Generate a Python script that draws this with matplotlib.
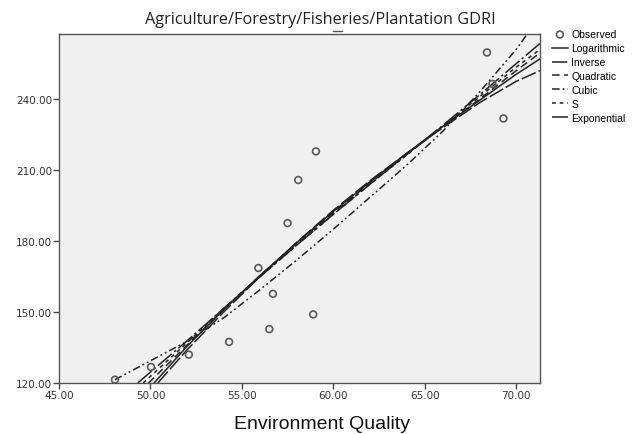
import matplotlib
matplotlib.use('Agg')
import matplotlib.pyplot as plt
from matplotlib.lines import Line2D

# observed points
env_quality = [48.06, 50.03, 52.1, 54.3, 56.5, 58.9, 56.7, 55.9,
               57.5, 58.08, 59.05, 68.4, 68.7, 69.3]
gdri = [121.4, 126.8, 132.0, 137.4, 142.8, 149.0, 157.7, 168.6,
        187.6, 205.8, 217.9, 259.7, 246.4, 231.8]

# fitted curves
grid = [52, 54, 56, 58, 60, 62, 64, 66, 68, 70, 71.3]
log_x = [50.2] + grid
log_y = [120, 135.5, 151, 165.5, 179.3, 192.5, 205, 217, 228.5, 239.5, 250.5, 257]
inv_x = [50.4] + grid
inv_y = [120, 134, 150, 165, 179.5, 193, 205.5, 217, 228, 238.5, 247.5, 252]
quad_x = [49.9] + grid
quad_y = [120, 136, 151, 165.5, 179, 192, 204.5, 216.5, 228.5, 240, 252, 259.5]
cub_x = [48.06, 50, 52, 54, 56, 58, 60, 62, 64, 66, 68, 70, 70.6]
cub_y = [121.4, 129.4, 137.6, 147.5, 159.5, 172, 185, 198.5, 212, 226.5, 243, 261, 267.5]
s_x = [49.6] + grid
s_y = [120, 137, 151.5, 165, 178.3, 191.3, 204, 216.3, 228.7, 241, 253.5, 261]
exp_x = [49.3] + grid
exp_y = [120, 137.8, 151.5, 165, 178.3, 191.3, 204, 216.5, 229, 241.8, 255, 263.5]

x_ticks = [45, 50, 55, 60, 65, 70]
y_ticks = [120, 150, 180, 210, 240]

BG = '#F0F0F0'
TXT = '#333333'
LINE = '#222222'

fig = plt.figure(figsize=(6.35, 4.35), dpi=100, facecolor='white')
ax = fig.add_axes([0.0929, 0.1172, 0.7575, 0.8023])
ax.set_facecolor(BG)

ax.scatter(env_quality, gdri, s=24, facecolors='none', edgecolors='#5a5a5a',
           linewidths=1.2, label='Observed', zorder=3)
ax.plot(log_x, log_y, color=LINE, lw=1.1, linestyle='-', label='Logarithmic')
ax.plot(inv_x, inv_y, color=LINE, lw=1.1, linestyle=(0, (10, 2)), label='Inverse')
ax.plot(quad_x, quad_y, color=LINE, lw=1.1, linestyle=(0, (5, 3)), label='Quadratic')
ax.plot(cub_x, cub_y, color=LINE, lw=1.1, linestyle=(0, (5, 2, 1.2, 2, 1.2, 2)), label='Cubic')
ax.plot(s_x, s_y, color=LINE, lw=1.1, linestyle=(0, (2.5, 2.5)), label='S')
ax.plot(exp_x, exp_y, color=LINE, lw=1.1, linestyle=(0, (12, 2, 1.5, 2)), label='Exponential')

ax.set_xlim(45, 71.3)
ax.set_ylim(120, 267.5)
ax.set_xticks(x_ticks)
ax.set_yticks(y_ticks)
ax.set_xticklabels([f'{v:.2f}' for v in x_ticks])
ax.set_yticklabels([f'{v:.2f}' for v in y_ticks])
ax.tick_params(direction='out', length=4, width=1, colors='#444444',
               labelsize=7.5, labelcolor=TXT, pad=1)
for sp in ax.spines.values():
    sp.set_color('#555555')
    sp.set_linewidth(1.0)

fig.text(0.507, 0.023, 'Environment Quality', ha='center', va='center',
         fontsize=14, color='#111111', family='Liberation Sans')
fig.text(0.505, 0.955, 'Agriculture/Forestry/Fisheries/Plantation GDRI',
         ha='center', va='center', fontsize=11.7, color='#222222', family='Open Sans')
# little stray mark under the title
fig.add_artist(Line2D([0.524, 0.538], [0.927, 0.927], transform=fig.transFigure,
                      color='#555555', lw=1.0))

handles, labels = ax.get_legend_handles_labels()
fig.legend(handles, labels, loc='upper left', bbox_to_anchor=(0.862, 0.94),
           frameon=False, handlelength=1.6, handletextpad=0.3,
           labelspacing=0.38, borderaxespad=0,
           prop={'family': 'Liberation Sans', 'size': 7.5})

fig.savefig('out.png', dpi=100, facecolor='white')
